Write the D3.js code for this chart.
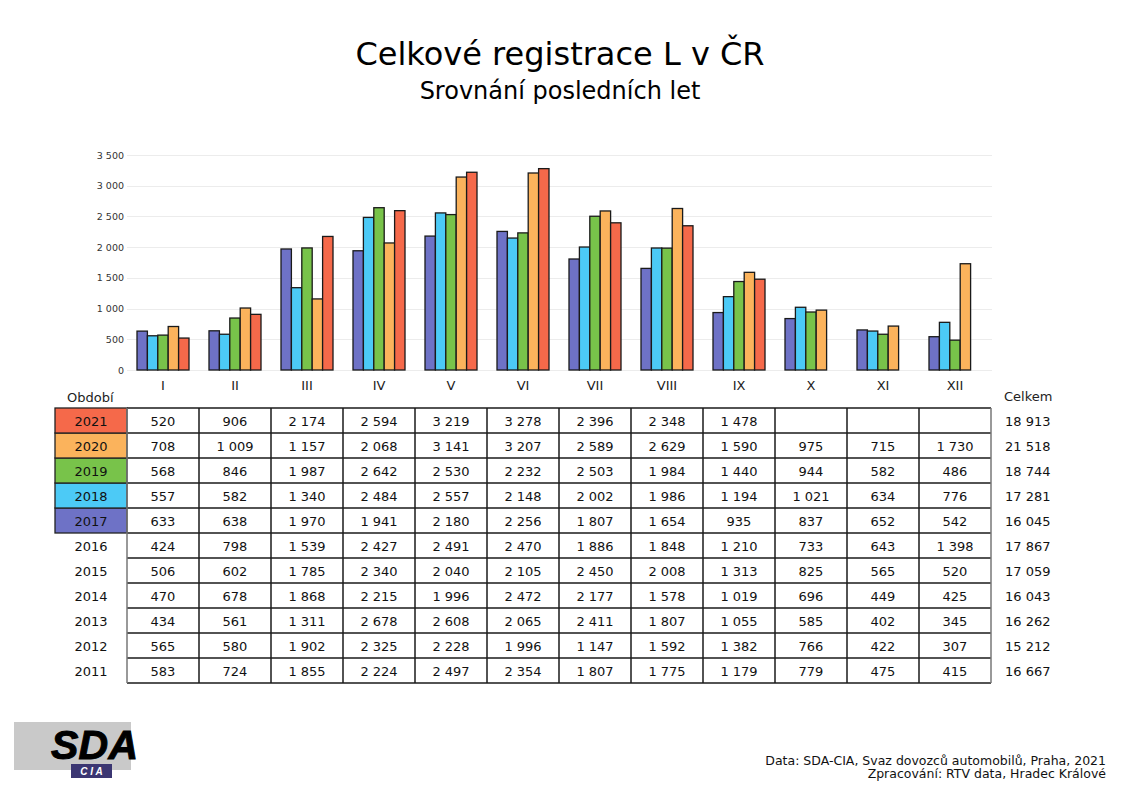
<!DOCTYPE html>
<html>
<head>
<meta charset="utf-8">
<script src="https://cdn.jsdelivr.net/npm/d3@7"></script>
<style>
  body { margin: 0; background: #fff; }
  svg { font-family: Verdana, "DejaVu Sans", sans-serif; }
</style>
</head>
<body>
<div id="chart"></div>
<script>
// DATA

var months = ["I", "II", "III", "IV", "V", "VI", "VII", "VIII", "IX", "X", "XI", "XII"];
var years = [2021, 2020, 2019, 2018, 2017, 2016, 2015, 2014, 2013, 2012, 2011];
var barYears = [2017, 2018, 2019, 2020, 2021];
var yTicks = [0, 500, 1000, 1500, 2000, 2500, 3000, 3500];

var v2021 = [520, 906, 2174, 2594, 3219, 3278, 2396, 2348, 1478, null, null, null];
var v2020 = [708, 1009, 1157, 2068, 3141, 3207, 2589, 2629, 1590, 975, 715, 1730];
var v2019 = [568, 846, 1987, 2642, 2530, 2232, 2503, 1984, 1440, 944, 582, 486];
var v2018 = [557, 582, 1340, 2484, 2557, 2148, 2002, 1986, 1194, 1021, 634, 776];
var v2017 = [633, 638, 1970, 1941, 2180, 2256, 1807, 1654, 935, 837, 652, 542];
var v2016 = [424, 798, 1539, 2427, 2491, 2470, 1886, 1848, 1210, 733, 643, 1398];
var v2015 = [506, 602, 1785, 2340, 2040, 2105, 2450, 2008, 1313, 825, 565, 520];
var v2014 = [470, 678, 1868, 2215, 1996, 2472, 2177, 1578, 1019, 696, 449, 425];
var v2013 = [434, 561, 1311, 2678, 2608, 2065, 2411, 1807, 1055, 585, 402, 345];
var v2012 = [565, 580, 1902, 2325, 2228, 1996, 1147, 1592, 1382, 766, 422, 307];
var v2011 = [583, 724, 1855, 2224, 2497, 2354, 1807, 1775, 1179, 779, 475, 415];
var totals = [18913, 21518, 18744, 17281, 16045, 17867, 17059, 16043, 16262, 15212, 16667];

var rows = {
  2021: v2021, 2020: v2020, 2019: v2019, 2018: v2018, 2017: v2017, 2016: v2016,
  2015: v2015, 2014: v2014, 2013: v2013, 2012: v2012, 2011: v2011
};

var colors = {
  2017: "#6e72c6",
  2018: "#4ccaf6",
  2019: "#78c34a",
  2020: "#fbb35c",
  2021: "#f5694a"
};

// D3 CODE

var width = 1121;
var height = 790;

var svg = d3.select("#chart")
  .append("svg")
  .attr("width", width)
  .attr("height", height);

var locale = d3.formatLocale({ decimal: ",", thousands: " ", grouping: [3], currency: ["", " Kč"] });
var fmt = locale.format(",d");

// titles
svg.append("text")
  .attr("x", 560).attr("y", 65)
  .attr("text-anchor", "middle")
  .style("font-size", "32px")
  .text("Celkové registrace L v ČR");

svg.append("text")
  .attr("x", 560).attr("y", 99)
  .attr("text-anchor", "middle")
  .style("font-size", "24px")
  .text("Srovnání posledních let");

// scales
var x = d3.scaleBand()
  .domain(months)
  .range([127, 991]);

var xInner = d3.scaleBand()
  .domain(barYears)
  .range([10, x.bandwidth() - 10]);

var y = d3.scaleLinear()
  .domain([0, 3500])
  .range([370, 155]);

// grid
svg.append("g")
  .selectAll("line")
  .data(yTicks)
  .join("line")
  .attr("x1", 127).attr("x2", 992)
  .attr("y1", function (d) { return Math.round(y(d)) + 0.5; })
  .attr("y2", function (d) { return Math.round(y(d)) + 0.5; })
  .attr("stroke", "#ececec")
  .attr("stroke-width", 1);

// y axis
var yAxis = svg.append("g")
  .attr("transform", "translate(127,0)")
  .call(d3.axisLeft(y).tickValues(yTicks).tickFormat(fmt).tickSize(0).tickPadding(3));
yAxis.select(".domain").remove();
yAxis.selectAll("text")
  .style("font-family", "Verdana, 'DejaVu Sans', sans-serif")
  .style("font-size", "9.5px")
  .attr("fill", "#333");

// month labels
var xAxis = svg.append("g")
  .attr("transform", "translate(0,370)")
  .call(d3.axisBottom(x).tickSize(0).tickPadding(11));
xAxis.select(".domain").remove();
xAxis.selectAll("text")
  .style("font-family", "Verdana, 'DejaVu Sans', sans-serif")
  .style("font-size", "13px")
  .attr("fill", "#222");

// bars
var groups = svg.append("g")
  .selectAll("g")
  .data(months)
  .join("g")
  .attr("transform", function (m) { return "translate(" + x(m) + ",0)"; });

groups.selectAll("rect")
  .data(function (m, i) {
    return barYears
      .map(function (yr) { return { year: yr, value: rows[yr][i] }; })
      .filter(function (d) { return d.value != null; });
  })
  .join("rect")
  .attr("x", function (d) { return xInner(d.year); })
  .attr("width", xInner.bandwidth())
  .attr("y", function (d) { return y(d.value); })
  .attr("height", function (d) { return y(0) - y(d.value); })
  .attr("fill", function (d) { return colors[d.year]; })
  .attr("stroke", "#1a1a1a")
  .attr("stroke-width", 1.3);

// TABLE

var rowY = d3.scaleBand()
  .domain(years)
  .range([408, 683]);

var table = svg.append("g");

table.append("text")
  .attr("x", 67).attr("y", 402)
  .style("font-size", "13px")
  .attr("fill", "#222")
  .text("Období");

table.append("text")
  .attr("x", 1004).attr("y", 401)
  .style("font-size", "13px")
  .attr("fill", "#222")
  .text("Celkem");

// coloured year cells
table.selectAll("rect.year")
  .data(barYears)
  .join("rect")
  .attr("class", "year")
  .attr("x", 55)
  .attr("y", function (d) { return rowY(d); })
  .attr("width", 72)
  .attr("height", rowY.bandwidth())
  .attr("fill", function (d) { return colors[d]; })
  .attr("stroke", "#222")
  .attr("stroke-width", 1.3);

// year labels
table.selectAll("text.yr")
  .data(years)
  .join("text")
  .attr("class", "yr")
  .attr("x", 91)
  .attr("y", function (d) { return rowY(d) + rowY.bandwidth() / 2 + 5; })
  .attr("text-anchor", "middle")
  .style("font-size", "13px")
  .attr("fill", "#111")
  .text(function (d) { return d; });

// grid lines of table
table.selectAll("line.h")
  .data(years.concat(["end"]))
  .join("line")
  .attr("class", "h")
  .attr("x1", 127).attr("x2", 991)
  .attr("y1", function (d) { return d === "end" ? 683 : rowY(d); })
  .attr("y2", function (d) { return d === "end" ? 683 : rowY(d); })
  .attr("stroke", "#1a1a1a")
  .attr("stroke-width", 1.5);

var colEdges = months.map(function (m) { return x(m); }).concat([991]);
table.selectAll("line.v")
  .data(colEdges)
  .join("line")
  .attr("class", "v")
  .attr("x1", function (d) { return d; })
  .attr("x2", function (d) { return d; })
  .attr("y1", 408).attr("y2", 683)
  .attr("stroke", function (d, i) { return (i === 0 || i === colEdges.length - 1) ? "#777" : "#1a1a1a"; })
  .attr("stroke-width", 1.5);

// cell values
var cells = [];
years.forEach(function (yr) {
  rows[yr].forEach(function (v, i) {
    if (v != null) cells.push({ year: yr, month: months[i], value: v });
  });
});

table.selectAll("text.cell")
  .data(cells)
  .join("text")
  .attr("class", "cell")
  .attr("x", function (d) { return x(d.month) + x.bandwidth() / 2; })
  .attr("y", function (d) { return rowY(d.year) + rowY.bandwidth() / 2 + 5; })
  .attr("text-anchor", "middle")
  .style("font-size", "13px")
  .attr("fill", "#111")
  .text(function (d) { return fmt(d.value); });

// totals
table.selectAll("text.total")
  .data(totals)
  .join("text")
  .attr("class", "total")
  .attr("x", 1005)
  .attr("y", function (d, i) { return rowY(years[i]) + rowY.bandwidth() / 2 + 5; })
  .style("font-size", "13px")
  .attr("fill", "#111")
  .text(function (d) { return fmt(d); });

// FOOTER

svg.append("text")
  .attr("x", 1106).attr("y", 765)
  .attr("text-anchor", "end")
  .style("font-size", "12.5px")
  .attr("fill", "#111")
  .text("Data: SDA-CIA, Svaz dovozců automobilů, Praha, 2021");

svg.append("text")
  .attr("x", 1106).attr("y", 778)
  .attr("text-anchor", "end")
  .style("font-size", "12.5px")
  .attr("fill", "#111")
  .text("Zpracování: RTV data, Hradec Králové");

// logo
var logo = svg.append("g");
logo.append("rect")
  .attr("x", 14).attr("y", 722)
  .attr("width", 117).attr("height", 48)
  .attr("fill", "#c9c9c9");
logo.append("text")
  .attr("x", 51).attr("y", 759)
  .style("font-family", "'Liberation Sans', Arial, sans-serif")
  .style("font-weight", "bold")
  .style("font-style", "italic")
  .style("font-size", "41px")
  .attr("fill", "#000")
  .attr("stroke", "#000")
  .attr("stroke-width", 1)
  .attr("textLength", 87)
  .text("SDA");
logo.append("rect")
  .attr("x", 71).attr("y", 764)
  .attr("width", 41).attr("height", 14)
  .attr("fill", "#3b3672");
logo.append("text")
  .attr("x", 91.5).attr("y", 775)
  .attr("text-anchor", "middle")
  .style("font-family", "'Liberation Sans', Arial, sans-serif")
  .style("font-weight", "bold")
  .style("font-style", "italic")
  .style("font-size", "10px")
  .attr("fill", "#fff")
  .text("C I A");
</script>
</body>
</html>
